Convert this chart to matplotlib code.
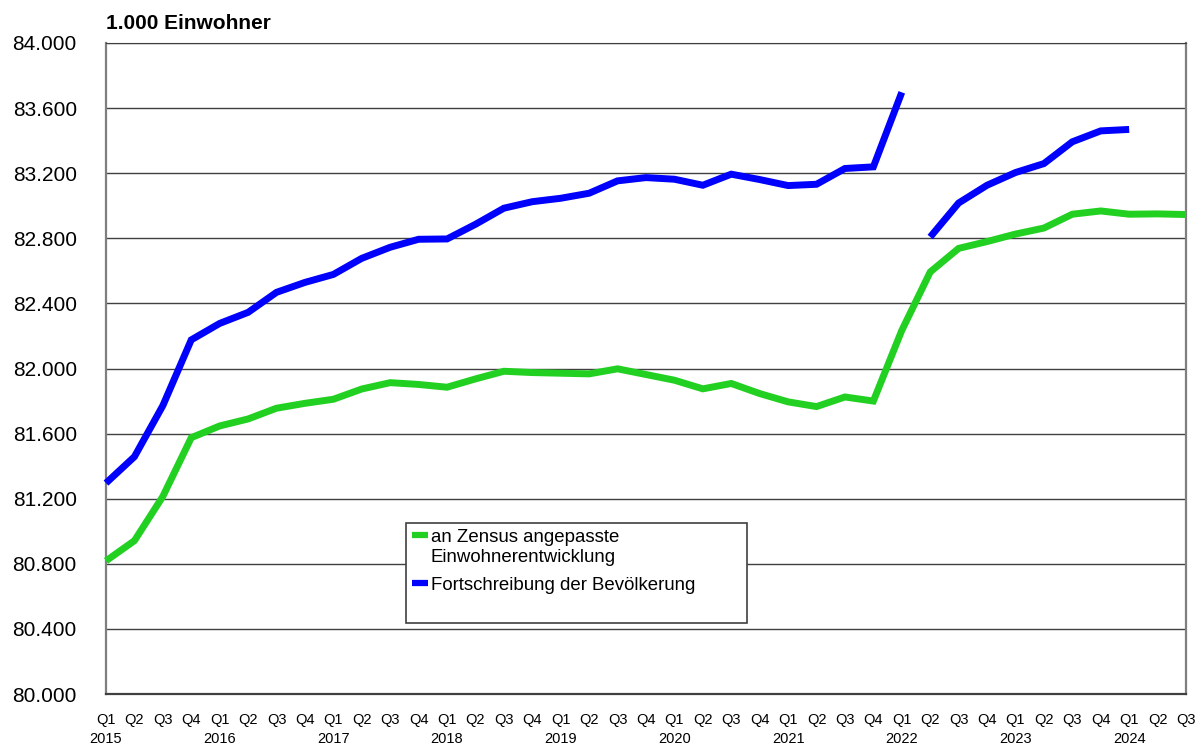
import matplotlib
matplotlib.use('Agg')
import matplotlib.pyplot as plt
from matplotlib.lines import Line2D
from matplotlib.patches import Rectangle
from matplotlib.ticker import FuncFormatter, MultipleLocator
import numpy as np


plt.rcParams.update({
    'font.family': ['Liberation Sans', 'DejaVu Sans'],
    'figure.dpi': 100,
})

# Zeitachse: Q1 2015 bis Q3 2024
years = [2015, 2016, 2017, 2018, 2019, 2020, 2021, 2022, 2023, 2024]
quarters = ['Q1', 'Q2', 'Q3', 'Q4']
n_quarters = 39

# an Zensus angepasste Einwohnerentwicklung (1.000 Einwohner), Q1 2015 - Q3 2024
zensus = [
    80818, 80942, 81214, 81575, 81647, 81690, 81756, 81786,
    81811, 81874, 81913, 81902, 81885, 81936, 81983, 81975,
    81971, 81967, 81998, 81963, 81928, 81875, 81908, 81846,
    81795, 81766, 81825, 81800, 82234, 82593, 82738, 82780,
    82826, 82863, 82948, 82968, 82948, 82950, 82946,
]

# Fortschreibung der Bevoelkerung, Q1 2015 - Q1 2022
fortschreibung_alt = [
    81296, 81458, 81772, 82176, 82277, 82345, 82468, 82529,
    82578, 82677, 82745, 82794, 82796, 82886, 82985, 83025,
    83046, 83077, 83153, 83173, 83163, 83126, 83194, 83161,
    83124, 83132, 83229, 83239, 83697,
]

# Fortschreibung auf Basis Zensus 2022, Q2 2022 - Q1 2024
fortschreibung_neu = [82808, 83017, 83126, 83204, 83259, 83393, 83460, 83469]

legend_labels = ['an Zensus angepasste\nEinwohnerentwicklung', 'Fortschreibung der Bevölkerung']

GREEN = '#22d022'
BLUE = '#0000ff'
W, H = 1202, 744


def fx(px):
    return px / W


def fy(py):
    return 1 - py / H


tick_labels = []
for y in years:
    for q in quarters:
        tick_labels.append(f'{q}\n{y}' if q == 'Q1' else q)
tick_labels = tick_labels[:n_quarters]

fig = plt.figure(figsize=(W / 100, H / 100))
ax = fig.add_axes([fx(106), fy(694), 1080 / W, 651 / H])

x_all = np.arange(n_quarters)
x_alt = np.arange(len(fortschreibung_alt))
x_neu = np.arange(len(fortschreibung_neu)) + len(fortschreibung_alt)

line_kw = dict(linewidth=5.0, solid_joinstyle='miter', solid_capstyle='butt', zorder=3, clip_on=False)
ax.plot(x_all, zensus, color=GREEN, **line_kw)
ax.plot(x_alt, fortschreibung_alt, color=BLUE, **line_kw)
ax.plot(x_neu, fortschreibung_neu, color=BLUE, **line_kw)

ax.set_xlim(0, n_quarters - 1)
ax.set_ylim(80000, 84000)
ax.yaxis.set_major_locator(MultipleLocator(400))
ax.yaxis.set_major_formatter(FuncFormatter(lambda v, _: f'{v:,.0f}'.replace(',', '.')))
ax.grid(axis='y', color='#404040', linewidth=1.0)
ax.set_axisbelow(True)

ax.set_xticks(x_all)
ax.set_xticklabels(tick_labels, fontsize=10.5, linespacing=1.45)
ax.tick_params(axis='x', length=0, pad=14)
ax.tick_params(axis='y', length=0, pad=21, labelsize=15)

for side in ('left', 'right'):
    ax.spines[side].set_color('#7f7f7f')
    ax.spines[side].set_linewidth(1.6)
ax.spines['top'].set_color('#404040')
ax.spines['bottom'].set_color('#404040')
ax.spines['bottom'].set_linewidth(1.6)

fig.text(fx(106), fy(29), '1.000 Einwohner', fontsize=15, fontweight='bold',
         ha='left', va='baseline')

# Legende: Rahmen, Marker und Texte
fig.patches.append(Rectangle((fx(406), fy(623)), 341 / W, 100 / H,
                             transform=fig.transFigure, facecolor='white',
                             edgecolor='#404040', linewidth=1.2, zorder=4))
for color, label, y_handle, y_top in ((GREEN, legend_labels[0], 535, 529),
                                      (BLUE, legend_labels[1], 583, 577)):
    fig.add_artist(Line2D([fx(412), fx(428)], [fy(y_handle), fy(y_handle)],
                          transform=fig.transFigure, color=color, linewidth=4.5,
                          solid_capstyle='butt', zorder=5))
    fig.text(fx(431), fy(y_top), label, fontsize=13.4, ha='left', va='top',
             linespacing=1.25, zorder=5)

fig.savefig('out.png', dpi=100)
